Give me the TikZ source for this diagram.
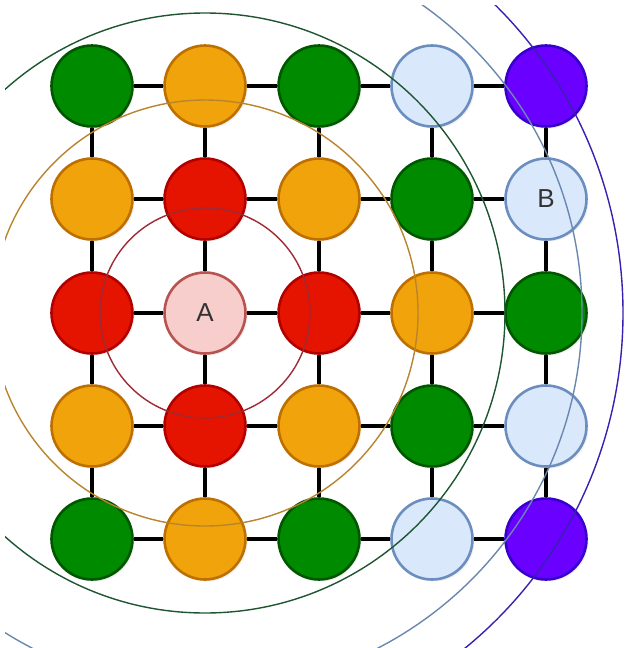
\documentclass[tikz,border=0pt]{standalone}
\usepackage{fontspec}
\setmainfont{Liberation Sans}
\usetikzlibrary{shadows,backgrounds}
\definecolor{gF}{HTML}{008A00}\definecolor{gD}{HTML}{005700}
\definecolor{oF}{HTML}{F0A30A}\definecolor{oD}{HTML}{BD7000}
\definecolor{rF}{HTML}{E51400}\definecolor{rD}{HTML}{B20000}
\definecolor{pF}{HTML}{F8CECC}\definecolor{pD}{HTML}{B85450}
\definecolor{bF}{HTML}{DAE8FC}\definecolor{bD}{HTML}{6C8EBF}
\definecolor{vF}{HTML}{6A00FF}\definecolor{vD}{HTML}{3700CC}
\definecolor{ringR}{HTML}{9E2A35}
\definecolor{ringO}{HTML}{B8842E}
\definecolor{ringG}{HTML}{1E5631}
\definecolor{ringB}{HTML}{6A88AE}
\definecolor{ringV}{HTML}{3A1FB0}
\begin{document}
\begin{tikzpicture}[x=1pt,y=-1pt,
  dot/.style={circle, minimum size=81pt, inner sep=0pt, line width=2.6pt,
    drop shadow={opacity=0.12, shadow xshift=2pt, shadow yshift=-2pt},
    font=\fontsize{26}{30}\selectfont, text=black!80},
  gn/.style={dot, fill=gF, draw=gD},
  on/.style={dot, fill=oF, draw=oD},
  rn/.style={dot, fill=rF, draw=rD},
  pn/.style={dot, fill=pF, draw=pD},
  bn/.style={dot, fill=bF, draw=bD},
  vn/.style={dot, fill=vF, draw=vD},
  link/.style={line width=3.4pt, black},
  ring/.style={line width=1.4pt}]
\useasboundingbox (0,0) rectangle (628,648);
% row 1
\node[gn] (n11) at (92,86) {};
\node[on] (n12) at (205,86) {};
\node[gn] (n13) at (319,86) {};
\node[bn] (n14) at (432,86) {};
\node[vn] (n15) at (546,86) {};
% row 2
\node[on] (n21) at (92,199) {};
\node[rn] (n22) at (205,199) {};
\node[on] (n23) at (319,199) {};
\node[gn] (n24) at (432,199) {};
\node[bn] (n25) at (546,199) {B};
% row 3
\node[rn] (n31) at (92,313) {};
\node[pn] (n32) at (205,313) {A};
\node[rn] (n33) at (319,313) {};
\node[on] (n34) at (432,313) {};
\node[gn] (n35) at (546,313) {};
% row 4
\node[on] (n41) at (92,426) {};
\node[rn] (n42) at (205,426) {};
\node[on] (n43) at (319,426) {};
\node[gn] (n44) at (432,426) {};
\node[bn] (n45) at (546,426) {};
% row 5
\node[gn] (n51) at (92,539) {};
\node[on] (n52) at (205,539) {};
\node[gn] (n53) at (319,539) {};
\node[bn] (n54) at (432,539) {};
\node[vn] (n55) at (546,539) {};
\begin{scope}[on background layer]
  \foreach \r in {1,...,5}{
    \foreach \c/\d in {1/2,2/3,3/4,4/5}{
      \draw[link] (n\r\c) -- (n\r\d);
      \draw[link] (n\c\r) -- (n\d\r);
    }
  }
\end{scope}
\begin{scope}
  \clip (5,5) rectangle (628,648);
  \draw[ring, draw=ringR] (n32.center) circle[radius=105pt];
  \draw[ring, draw=ringO] (n32.center) circle[radius=213pt];
  \draw[ring, draw=ringG] (n32.center) circle[radius=300pt];
  \draw[ring, draw=ringB] (n32.center) circle[radius=377pt];
  \draw[ring, draw=ringV] (n32.center) ellipse[x radius=418pt, y radius=428pt];
\end{scope}
\end{tikzpicture}
\end{document}
